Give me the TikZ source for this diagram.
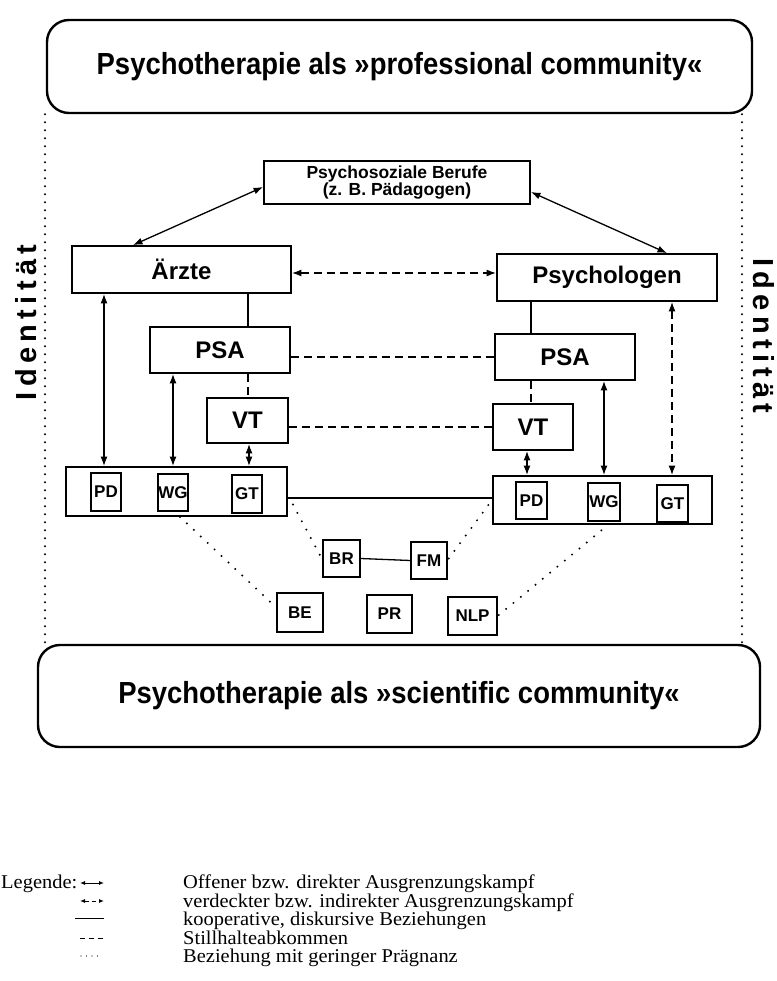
\documentclass[tikz,border=0pt]{standalone}
\usepackage{fontspec}
\setmainfont{Liberation Serif}
\newfontfamily\hb{Liberation Sans}
\newfontfamily\hbt[FakeStretch=0.9]{Liberation Sans}
\newfontfamily\leg[FakeStretch=1.05]{Liberation Serif}
\newcommand\idg{\hspace{5.3pt}}
\usetikzlibrary{arrows.meta,calc}
\begin{document}
\begin{tikzpicture}[x=1pt,y=-1pt,
  box/.style={draw,line width=1.8pt,inner sep=0pt,font=\hb\bfseries\fontsize{24}{27}\selectfont},
  sbox/.style={draw,line width=1.6pt,inner sep=0pt,font=\hb\bfseries\fontsize{17}{19}\selectfont},
  cont/.style={draw,line width=1.8pt,inner sep=0pt},
  title/.style={draw,line width=2.4pt,rounded corners=22pt,inner sep=0pt,font=\hbt\bfseries\fontsize{30.5}{34}\selectfont},
  conn/.style={line width=1.3pt},
  dbl/.style={conn,{Latex[length=9.5pt,width=7pt]}-{Latex[length=9.5pt,width=7pt]}},
  dsh/.style={conn,dash pattern=on 8pt off 5pt},
  ddbl/.style={dsh,{Latex[length=9.5pt,width=7pt]}-{Latex[length=9.5pt,width=7pt]}},
  dotl/.style={line width=2.2pt,line cap=round,dash pattern=on 0pt off 8pt},
  dotd/.style={line width=2.2pt,line cap=round,dash pattern=on 0pt off 9.5pt},
  idtxt/.style={font=\hb\bfseries\fontsize{29}{31}\selectfont,inner sep=0pt},
  legt/.style={font=\leg\fontsize{19.5}{21}\selectfont,anchor=base west,inner sep=0pt},
  legs/.style={line width=1pt},
  legtip/.style={{Latex[length=5pt,width=4pt]}-{Latex[length=5pt,width=4pt]}}
]
\useasboundingbox (0,0) rectangle (776,981);
\fill[white] (0,0) rectangle (776,981);

% titles
\node[title,minimum width=705pt,minimum height=93pt] (top) at (399.5,66.5) {Psychotherapie als »professional community«};
\node[title,minimum width=722pt,minimum height=102pt] (bot) at (399,696) {Psychotherapie als »scientific community«};

% Identitaet
\node[idtxt,rotate=90] (idL) at (26,322.5) {I\idg d\idg e\idg n\idg t\idg i\idg t\idg ä\idg t};
\node[idtxt,rotate=-90] (idR) at (764,336) {I\idg d\idg e\idg n\idg t\idg i\idg t\idg ä\idg t};

% main boxes
\node[box,align=center,font=\hb\bfseries\fontsize{17.5}{17.5}\selectfont,minimum width=266pt,minimum height=43pt] (psb) at (397,182.5) {Psychosoziale Berufe\\(z. B. Pädagogen)};
\node[box,minimum width=219pt,minimum height=47pt] (ar) at (181.5,269.5) {Ärzte};
\node[box,minimum width=220pt,minimum height=47pt] (psy) at (607,277.5) {Psychologen};
\node[box,minimum width=140pt,minimum height=46pt] (psaL) at (220,350) {PSA};
\node[box,minimum width=140pt,minimum height=46pt] (psaR) at (565,357) {PSA};
\node[box,minimum width=81pt,minimum height=45pt] (vtL) at (247.5,420.5) {VT};
\node[box,minimum width=80pt,minimum height=46pt] (vtR) at (533,427) {VT};

% containers
\node[cont,minimum width=221pt,minimum height=49pt] (Lc) at (176.5,491.5) {};
\node[cont,minimum width=219pt,minimum height=48pt] (Rc) at (602.5,500) {};
\node[sbox,minimum width=30pt,minimum height=38pt] (pdL) at (106,492) {PD};
\node[sbox,minimum width=30pt,minimum height=37pt] (wgL) at (173,492.5) {WG};
\node[sbox,minimum width=30pt,minimum height=38pt] (gtL) at (247,494) {GT};
\node[sbox,minimum width=31pt,minimum height=37pt] (pdR) at (531.5,500.5) {PD};
\node[sbox,minimum width=32pt,minimum height=38pt] (wgR) at (604,502) {WG};
\node[sbox,minimum width=31pt,minimum height=37pt] (gtR) at (672.5,503.5) {GT};

% small boxes
\node[sbox,minimum width=37pt,minimum height=37pt] (BR) at (341.5,558.5) {BR};
\node[sbox,minimum width=36pt,minimum height=37pt] (FM) at (429,560.5) {FM};
\node[sbox,minimum width=46pt,minimum height=39pt] (BE) at (300,612.5) {BE};
\node[sbox,minimum width=45pt,minimum height=38pt] (PR) at (389.5,614) {PR};
\node[sbox,minimum width=49pt,minimum height=38pt] (NLP) at (472.5,616) {NLP};

% dotted identity lines
\draw[dotl] (top.south -| 45,0) -- (bot.north -| 45,0);
\draw[dotl] (top.south -| 742,0) -- (bot.north -| 742,0);

% connectors
\draw[dbl] ($(psb.west)+(0,4.5)$) -- (ar.north -| 133,0);
\draw[dbl] ($(psb.east)+(0,9.5)$) -- (psy.north -| 667,0);
\draw[ddbl] (ar.east |- 0,273) -- (psy.west |- 0,273);

\draw[conn] (ar.south -| 248,0) -- (psaL.north -| 248,0);
\draw[dsh] (psaL.south -| 248,0) -- (vtL.north -| 248,0);
\draw[conn] (psy.south -| 531,0) -- (psaR.north -| 531,0);
\draw[dsh] (psaR.south -| 531,0) -- (vtR.north -| 531,0);

\draw[dsh] (psaL.east |- 0,357) -- (psaR.west |- 0,357);
\draw[dsh] (vtL.east |- 0,427) -- (vtR.west |- 0,427);

\draw[dbl] (ar.south -| 104,0) -- (Lc.north -| 104,0);
\draw[dbl] (psaL.south -| 173,0) -- (Lc.north -| 173,0);
\draw[dbl] (vtL.south -| 249,0) -- (Lc.north -| 249,0);
\draw[dbl] (vtR.south -| 527,0) -- (Rc.north -| 527,0);
\draw[dbl] (psaR.south -| 604,0) -- (Rc.north -| 604,0);
\draw[ddbl] (psy.south -| 672,0) -- (Rc.north -| 672,0);

\draw[conn] (Lc.east |- 0,498) -- (Rc.west |- 0,498);
\draw[conn] (BR.east) -- (FM.west);

\draw[dotd] (Lc.south -| 180,0) -- ($(BE.west)+(0,-5)$);
\draw[dotd] ($(Lc.east)+(5,13)$) -- ($(BR.west)+(-1,-1)$);
\draw[dotd] ($(FM.east)+(1,-2)$) -- ($(Rc.west)+(-3,4)$);
\draw[dotd] ($(NLP.east)+(1,-1)$) -- (Rc.south -| 608,0);

% legend
\node[legt] (lg) at (1,888.5) {Legende:};
\coordinate (l1a) at (80,883); \coordinate (l1b) at (104,883);
\coordinate (l2a) at (80,901); \coordinate (l2b) at (104,901);
\coordinate (l3a) at (75,918); \coordinate (l3b) at (104,918);
\coordinate (l4a) at (80,938); \coordinate (l4b) at (103,938);
\coordinate (l5a) at (81,956); \coordinate (l5b) at (102,956);
\draw[legs,legtip] (l1a) -- (l1b);
\draw[legs,legtip,dash pattern=on 4pt off 3pt] (l2a) -- (l2b);
\draw[legs] (l3a) -- (l3b);
\draw[legs,dash pattern=on 5pt off 4pt] (l4a) -- (l4b);
\draw[line width=1.4pt,line cap=round,dash pattern=on 0pt off 5.5pt] (l5a) -- (l5b);
\node[legt] (t1) at (183,888.5) {Offener bzw. direkter Ausgrenzungskampf};
\node[legt] (t2) at (183,907.5) {verdeckter bzw. indirekter Ausgrenzungskampf};
\node[legt] (t3) at (183,925.5) {kooperative, diskursive Beziehungen};
\node[legt] (t4) at (183,944.5) {Stillhalteabkommen};
\node[legt] (t5) at (183,962.5) {Beziehung mit geringer Prägnanz};
\end{tikzpicture}
\end{document}
